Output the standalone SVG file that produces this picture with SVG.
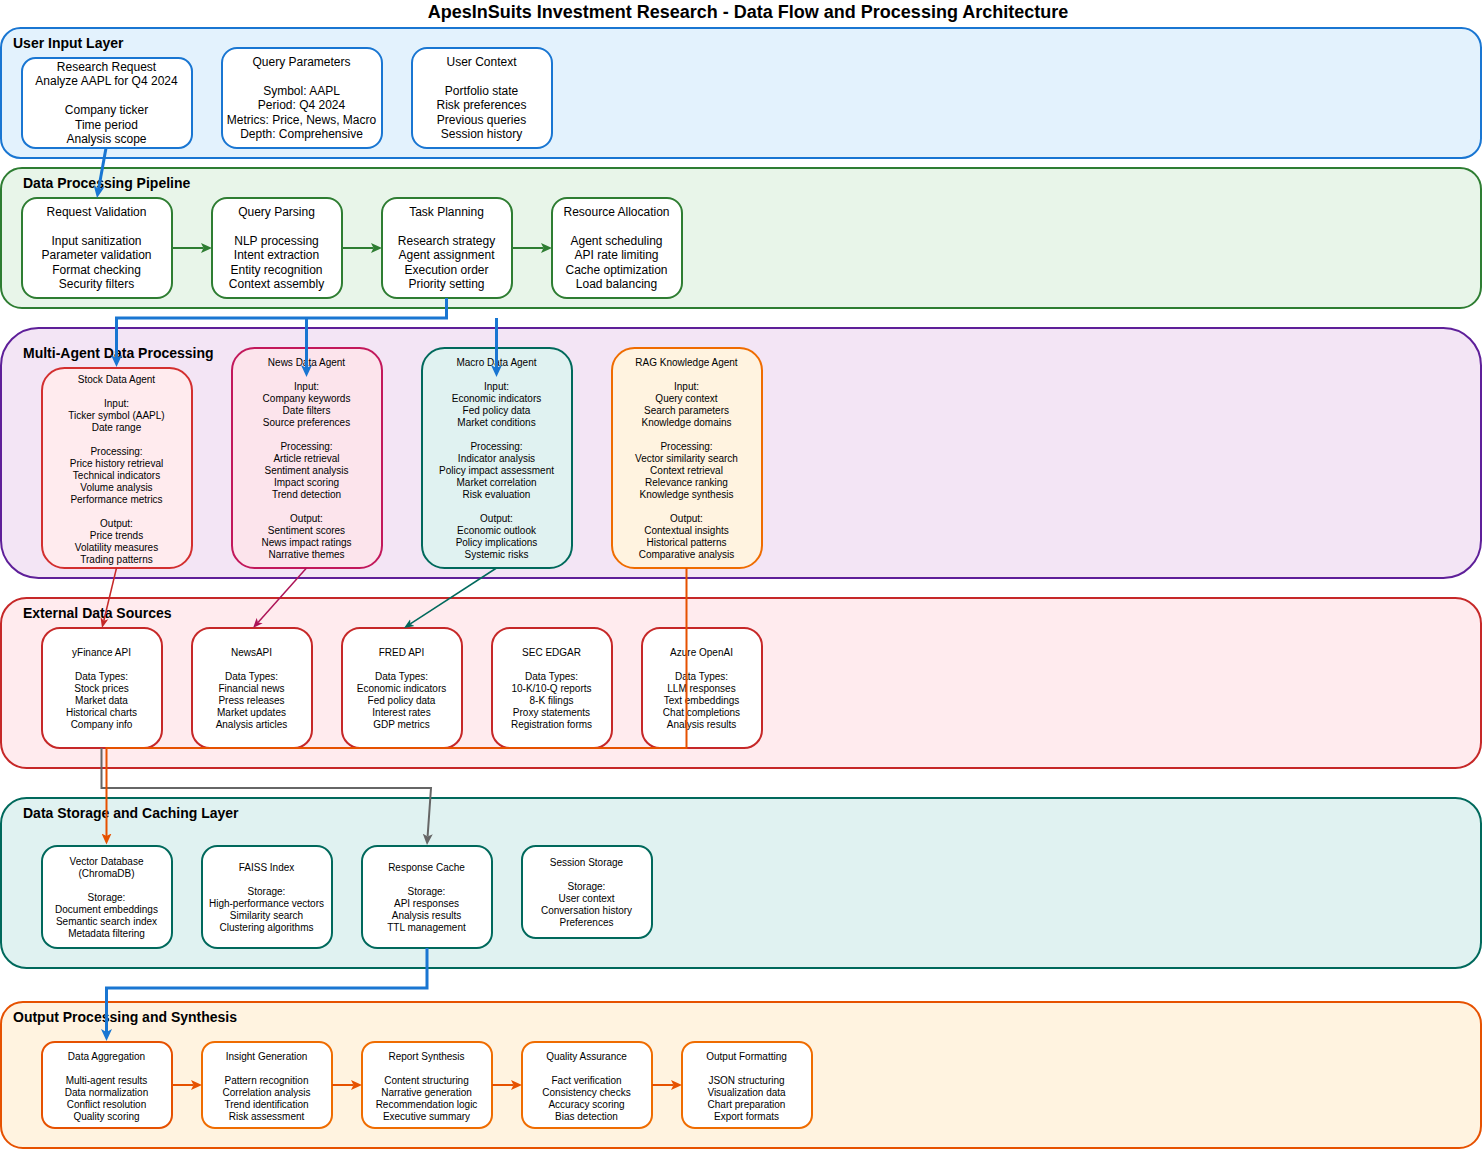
<svg xmlns="http://www.w3.org/2000/svg" width="1482" height="1149" viewBox="0 0 1482 1149">
<style>
text{font-family:"Liberation Sans",Arial,sans-serif;fill:#000}
.title{font-size:18px;font-weight:bold}
.lt{font-size:14px;font-weight:bold}
.t12{font-size:12px;text-anchor:middle}
.t10{font-size:10px;text-anchor:middle}
.layer{stroke-width:2}
.node{stroke-width:2;fill:#fff}
.c{fill:none;stroke-linejoin:miter}
</style>
<defs>
<marker id="aBlue" markerUnits="userSpaceOnUse" markerWidth="12" markerHeight="12" viewBox="0 0 12 12" refX="3" refY="6" orient="auto"><path d="M0,0.5 L12,6 L0,11.5 L3,6 z" fill="#1976d2"/></marker>
<marker id="aGreen" markerUnits="userSpaceOnUse" markerWidth="11" markerHeight="10" viewBox="0 0 11 10" refX="2.5" refY="5" orient="auto"><path d="M0,0 L11,5 L0,10 L2.5,5 z" fill="#2e7d32"/></marker>
<marker id="aOrange" markerUnits="userSpaceOnUse" markerWidth="11" markerHeight="10" viewBox="0 0 11 10" refX="2.5" refY="5" orient="auto"><path d="M0,0 L11,5 L0,10 L2.5,5 z" fill="#e65100"/></marker>
<marker id="aGray" markerUnits="userSpaceOnUse" markerWidth="11" markerHeight="10" viewBox="0 0 11 10" refX="2.5" refY="5" orient="auto"><path d="M0,0 L11,5 L0,10 L2.5,5 z" fill="#666"/></marker>
<marker id="aRed" markerUnits="userSpaceOnUse" markerWidth="10" markerHeight="10" viewBox="0 0 10 10" refX="2.5" refY="5" orient="auto"><path d="M0,1 L10,5 L0,9 L2.5,5 z" fill="#c62828"/></marker>
<marker id="aPink" markerUnits="userSpaceOnUse" markerWidth="10" markerHeight="10" viewBox="0 0 10 10" refX="2.5" refY="5" orient="auto"><path d="M0,1 L10,5 L0,9 L2.5,5 z" fill="#ad1457"/></marker>
<marker id="aTeal" markerUnits="userSpaceOnUse" markerWidth="10" markerHeight="10" viewBox="0 0 10 10" refX="2.5" refY="5" orient="auto"><path d="M0,1 L10,5 L0,9 L2.5,5 z" fill="#00695c"/></marker>
</defs>

<rect width="1482" height="1149" fill="#fff"/>
<text class="title" x="748" y="17.5" text-anchor="middle">ApesInSuits Investment Research - Data Flow and Processing Architecture</text>

<g id="layers">
<g id="layer-user-input"><rect class="layer" x="1" y="28" width="1480" height="130" rx="19.5" fill="#e3f2fd" stroke="#1976d2"/><text class="lt" x="13" y="48">User Input Layer</text></g>
<g id="layer-pipeline"><rect class="layer" x="1" y="168" width="1480" height="140" rx="21" fill="#e8f5e9" stroke="#2e7d32"/><text class="lt" x="23" y="188">Data Processing Pipeline</text></g>
<g id="layer-agents"><rect class="layer" x="1" y="328" width="1480" height="250" rx="37.5" fill="#f3e5f5" stroke="#5e1f99"/><text class="lt" x="23" y="358">Multi-Agent Data Processing</text></g>
<g id="layer-external"><rect class="layer" x="1" y="598" width="1480" height="170" rx="25.5" fill="#ffebee" stroke="#c62828"/><text class="lt" x="23" y="618">External Data Sources</text></g>
<g id="layer-storage"><rect class="layer" x="1" y="798" width="1480" height="170" rx="25.5" fill="#e0f2f1" stroke="#00695c"/><text class="lt" x="23" y="818">Data Storage and Caching Layer</text></g>
<g id="layer-output"><rect class="layer" x="1" y="1002" width="1480" height="146" rx="21.9" fill="#fff3e0" stroke="#e65100"/><text class="lt" x="13" y="1022">Output Processing and Synthesis</text></g>
</g>

<g id="research-request"><rect class="node" x="22" y="58" width="170" height="90" rx="13.5" stroke="#1976d2"/>
<text class="t12"><tspan x="106.5" y="71">Research Request</tspan><tspan x="106.5" dy="14.4">Analyze AAPL for Q4 2024</tspan><tspan x="106.5" dy="28.8">Company ticker</tspan><tspan x="106.5" dy="14.4">Time period</tspan><tspan x="106.5" dy="14.4">Analysis scope</tspan></text></g>
<g id="query-parameters"><rect class="node" x="222" y="48" width="160" height="100" rx="15" stroke="#1976d2"/>
<text class="t12"><tspan x="301.5" y="66">Query Parameters</tspan><tspan x="301.5" dy="28.8">Symbol: AAPL</tspan><tspan x="301.5" dy="14.4">Period: Q4 2024</tspan><tspan x="301.5" dy="14.4">Metrics: Price, News, Macro</tspan><tspan x="301.5" dy="14.4">Depth: Comprehensive</tspan></text></g>
<g id="user-context"><rect class="node" x="412" y="48" width="140" height="100" rx="15" stroke="#1976d2"/>
<text class="t12"><tspan x="481.5" y="66">User Context</tspan><tspan x="481.5" dy="28.8">Portfolio state</tspan><tspan x="481.5" dy="14.4">Risk preferences</tspan><tspan x="481.5" dy="14.4">Previous queries</tspan><tspan x="481.5" dy="14.4">Session history</tspan></text></g>

<g id="request-validation"><rect class="node" x="22" y="198" width="150" height="100" rx="15" stroke="#2e7d32"/>
<text class="t12"><tspan x="96.5" y="216">Request Validation</tspan><tspan x="96.5" dy="28.8">Input sanitization</tspan><tspan x="96.5" dy="14.4">Parameter validation</tspan><tspan x="96.5" dy="14.4">Format checking</tspan><tspan x="96.5" dy="14.4">Security filters</tspan></text></g>
<g id="query-parsing"><rect class="node" x="212" y="198" width="130" height="100" rx="15" stroke="#2e7d32"/>
<text class="t12"><tspan x="276.5" y="216">Query Parsing</tspan><tspan x="276.5" dy="28.8">NLP processing</tspan><tspan x="276.5" dy="14.4">Intent extraction</tspan><tspan x="276.5" dy="14.4">Entity recognition</tspan><tspan x="276.5" dy="14.4">Context assembly</tspan></text></g>
<g id="task-planning"><rect class="node" x="382" y="198" width="130" height="100" rx="15" stroke="#2e7d32"/>
<text class="t12"><tspan x="446.5" y="216">Task Planning</tspan><tspan x="446.5" dy="28.8">Research strategy</tspan><tspan x="446.5" dy="14.4">Agent assignment</tspan><tspan x="446.5" dy="14.4">Execution order</tspan><tspan x="446.5" dy="14.4">Priority setting</tspan></text></g>
<g id="resource-allocation"><rect class="node" x="552" y="198" width="130" height="100" rx="15" stroke="#2e7d32"/>
<text class="t12"><tspan x="616.5" y="216">Resource Allocation</tspan><tspan x="616.5" dy="28.8">Agent scheduling</tspan><tspan x="616.5" dy="14.4">API rate limiting</tspan><tspan x="616.5" dy="14.4">Cache optimization</tspan><tspan x="616.5" dy="14.4">Load balancing</tspan></text></g>

<g id="stock-agent"><rect x="42" y="368" width="150" height="200" rx="22.5" fill="#ffebee" stroke="#d32f2f" stroke-width="2"/>
<text class="t10"><tspan x="116.5" y="382.5">Stock Data Agent</tspan><tspan x="116.5" dy="24">Input:</tspan><tspan x="116.5" dy="12">Ticker symbol (AAPL)</tspan><tspan x="116.5" dy="12">Date range</tspan><tspan x="116.5" dy="24">Processing:</tspan><tspan x="116.5" dy="12">Price history retrieval</tspan><tspan x="116.5" dy="12">Technical indicators</tspan><tspan x="116.5" dy="12">Volume analysis</tspan><tspan x="116.5" dy="12">Performance metrics</tspan><tspan x="116.5" dy="24">Output:</tspan><tspan x="116.5" dy="12">Price trends</tspan><tspan x="116.5" dy="12">Volatility measures</tspan><tspan x="116.5" dy="12">Trading patterns</tspan></text></g>
<g id="news-agent"><rect x="232" y="348" width="150" height="220" rx="22.5" fill="#fce4ec" stroke="#c2185b" stroke-width="2"/>
<text class="t10"><tspan x="306.5" y="366.2">News Data Agent</tspan><tspan x="306.5" dy="24">Input:</tspan><tspan x="306.5" dy="12">Company keywords</tspan><tspan x="306.5" dy="12">Date filters</tspan><tspan x="306.5" dy="12">Source preferences</tspan><tspan x="306.5" dy="24">Processing:</tspan><tspan x="306.5" dy="12">Article retrieval</tspan><tspan x="306.5" dy="12">Sentiment analysis</tspan><tspan x="306.5" dy="12">Impact scoring</tspan><tspan x="306.5" dy="12">Trend detection</tspan><tspan x="306.5" dy="24">Output:</tspan><tspan x="306.5" dy="12">Sentiment scores</tspan><tspan x="306.5" dy="12">News impact ratings</tspan><tspan x="306.5" dy="12">Narrative themes</tspan></text></g>
<g id="macro-agent"><rect x="422" y="348" width="150" height="220" rx="22.5" fill="#e0f2f1" stroke="#00695c" stroke-width="2"/>
<text class="t10"><tspan x="496.5" y="366.2">Macro Data Agent</tspan><tspan x="496.5" dy="24">Input:</tspan><tspan x="496.5" dy="12">Economic indicators</tspan><tspan x="496.5" dy="12">Fed policy data</tspan><tspan x="496.5" dy="12">Market conditions</tspan><tspan x="496.5" dy="24">Processing:</tspan><tspan x="496.5" dy="12">Indicator analysis</tspan><tspan x="496.5" dy="12">Policy impact assessment</tspan><tspan x="496.5" dy="12">Market correlation</tspan><tspan x="496.5" dy="12">Risk evaluation</tspan><tspan x="496.5" dy="24">Output:</tspan><tspan x="496.5" dy="12">Economic outlook</tspan><tspan x="496.5" dy="12">Policy implications</tspan><tspan x="496.5" dy="12">Systemic risks</tspan></text></g>
<g id="rag-agent"><rect x="612" y="348" width="150" height="220" rx="22.5" fill="#fff3e0" stroke="#ef6c00" stroke-width="2"/>
<text class="t10"><tspan x="686.5" y="366.2">RAG Knowledge Agent</tspan><tspan x="686.5" dy="24">Input:</tspan><tspan x="686.5" dy="12">Query context</tspan><tspan x="686.5" dy="12">Search parameters</tspan><tspan x="686.5" dy="12">Knowledge domains</tspan><tspan x="686.5" dy="24">Processing:</tspan><tspan x="686.5" dy="12">Vector similarity search</tspan><tspan x="686.5" dy="12">Context retrieval</tspan><tspan x="686.5" dy="12">Relevance ranking</tspan><tspan x="686.5" dy="12">Knowledge synthesis</tspan><tspan x="686.5" dy="24">Output:</tspan><tspan x="686.5" dy="12">Contextual insights</tspan><tspan x="686.5" dy="12">Historical patterns</tspan><tspan x="686.5" dy="12">Comparative analysis</tspan></text></g>

<g id="yfinance-api"><rect class="node" x="42" y="628" width="120" height="120" rx="18" stroke="#c62828"/>
<text class="t10"><tspan x="101.5" y="656.2">yFinance API</tspan><tspan x="101.5" dy="24">Data Types:</tspan><tspan x="101.5" dy="12">Stock prices</tspan><tspan x="101.5" dy="12">Market data</tspan><tspan x="101.5" dy="12">Historical charts</tspan><tspan x="101.5" dy="12">Company info</tspan></text></g>
<g id="newsapi"><rect class="node" x="192" y="628" width="120" height="120" rx="18" stroke="#c62828"/>
<text class="t10"><tspan x="251.5" y="656.2">NewsAPI</tspan><tspan x="251.5" dy="24">Data Types:</tspan><tspan x="251.5" dy="12">Financial news</tspan><tspan x="251.5" dy="12">Press releases</tspan><tspan x="251.5" dy="12">Market updates</tspan><tspan x="251.5" dy="12">Analysis articles</tspan></text></g>
<g id="fred-api"><rect class="node" x="342" y="628" width="120" height="120" rx="18" stroke="#c62828"/>
<text class="t10"><tspan x="401.5" y="656.2">FRED API</tspan><tspan x="401.5" dy="24">Data Types:</tspan><tspan x="401.5" dy="12">Economic indicators</tspan><tspan x="401.5" dy="12">Fed policy data</tspan><tspan x="401.5" dy="12">Interest rates</tspan><tspan x="401.5" dy="12">GDP metrics</tspan></text></g>
<g id="sec-edgar"><rect class="node" x="492" y="628" width="120" height="120" rx="18" stroke="#c62828"/>
<text class="t10"><tspan x="551.5" y="656.2">SEC EDGAR</tspan><tspan x="551.5" dy="24">Data Types:</tspan><tspan x="551.5" dy="12">10-K/10-Q reports</tspan><tspan x="551.5" dy="12">8-K filings</tspan><tspan x="551.5" dy="12">Proxy statements</tspan><tspan x="551.5" dy="12">Registration forms</tspan></text></g>
<g id="azure-openai"><rect class="node" x="642" y="628" width="120" height="120" rx="18" stroke="#c62828"/>
<text class="t10"><tspan x="701.5" y="656.2">Azure OpenAI</tspan><tspan x="701.5" dy="24">Data Types:</tspan><tspan x="701.5" dy="12">LLM responses</tspan><tspan x="701.5" dy="12">Text embeddings</tspan><tspan x="701.5" dy="12">Chat completions</tspan><tspan x="701.5" dy="12">Analysis results</tspan></text></g>

<g id="vector-database"><rect class="node" x="42" y="846" width="130" height="102" rx="15.3" stroke="#00695c"/>
<text class="t10"><tspan x="106.5" y="865.2">Vector Database</tspan><tspan x="106.5" dy="12">(ChromaDB)</tspan><tspan x="106.5" dy="24">Storage:</tspan><tspan x="106.5" dy="12">Document embeddings</tspan><tspan x="106.5" dy="12">Semantic search index</tspan><tspan x="106.5" dy="12">Metadata filtering</tspan></text></g>
<g id="faiss-index"><rect class="node" x="202" y="846" width="130" height="102" rx="15.3" stroke="#00695c"/>
<text class="t10"><tspan x="266.5" y="871.2">FAISS Index</tspan><tspan x="266.5" dy="24">Storage:</tspan><tspan x="266.5" dy="12">High-performance vectors</tspan><tspan x="266.5" dy="12">Similarity search</tspan><tspan x="266.5" dy="12">Clustering algorithms</tspan></text></g>
<g id="response-cache"><rect class="node" x="362" y="846" width="130" height="102" rx="15.3" stroke="#00695c"/>
<text class="t10"><tspan x="426.5" y="871.2">Response Cache</tspan><tspan x="426.5" dy="24">Storage:</tspan><tspan x="426.5" dy="12">API responses</tspan><tspan x="426.5" dy="12">Analysis results</tspan><tspan x="426.5" dy="12">TTL management</tspan></text></g>
<g id="session-storage"><rect class="node" x="522" y="846" width="130" height="92" rx="13.8" stroke="#00695c"/>
<text class="t10"><tspan x="586.5" y="866.2">Session Storage</tspan><tspan x="586.5" dy="24">Storage:</tspan><tspan x="586.5" dy="12">User context</tspan><tspan x="586.5" dy="12">Conversation history</tspan><tspan x="586.5" dy="12">Preferences</tspan></text></g>

<g id="data-aggregation"><rect class="node" x="42" y="1042" width="130" height="86" rx="12.9" stroke="#e65100"/>
<text class="t10"><tspan x="106.5" y="1059.5">Data Aggregation</tspan><tspan x="106.5" dy="24">Multi-agent results</tspan><tspan x="106.5" dy="12">Data normalization</tspan><tspan x="106.5" dy="12">Conflict resolution</tspan><tspan x="106.5" dy="12">Quality scoring</tspan></text></g>
<g id="insight-generation"><rect class="node" x="202" y="1042" width="130" height="86" rx="12.9" stroke="#ef6c00"/>
<text class="t10"><tspan x="266.5" y="1059.5">Insight Generation</tspan><tspan x="266.5" dy="24">Pattern recognition</tspan><tspan x="266.5" dy="12">Correlation analysis</tspan><tspan x="266.5" dy="12">Trend identification</tspan><tspan x="266.5" dy="12">Risk assessment</tspan></text></g>
<g id="report-synthesis"><rect class="node" x="362" y="1042" width="130" height="86" rx="12.9" stroke="#ef6c00"/>
<text class="t10"><tspan x="426.5" y="1059.5">Report Synthesis</tspan><tspan x="426.5" dy="24">Content structuring</tspan><tspan x="426.5" dy="12">Narrative generation</tspan><tspan x="426.5" dy="12">Recommendation logic</tspan><tspan x="426.5" dy="12">Executive summary</tspan></text></g>
<g id="quality-assurance"><rect class="node" x="522" y="1042" width="130" height="86" rx="12.9" stroke="#ef6c00"/>
<text class="t10"><tspan x="586.5" y="1059.5">Quality Assurance</tspan><tspan x="586.5" dy="24">Fact verification</tspan><tspan x="586.5" dy="12">Consistency checks</tspan><tspan x="586.5" dy="12">Accuracy scoring</tspan><tspan x="586.5" dy="12">Bias detection</tspan></text></g>
<g id="output-formatting"><rect class="node" x="682" y="1042" width="130" height="86" rx="12.9" stroke="#ef6c00"/>
<text class="t10"><tspan x="746.5" y="1059.5">Output Formatting</tspan><tspan x="746.5" dy="24">JSON structuring</tspan><tspan x="746.5" dy="12">Visualization data</tspan><tspan x="746.5" dy="12">Chart preparation</tspan><tspan x="746.5" dy="12">Export formats</tspan></text></g>

<g id="connectors" class="c">
<path d="M106,148 L98.6,189.1" stroke="#1976d2" stroke-width="3" marker-end="url(#aBlue)"/>
<path d="M446.5,298 V318 H116.5 V358" stroke="#1976d2" stroke-width="3" marker-end="url(#aBlue)"/>
<path d="M306.5,318 V368" stroke="#1976d2" stroke-width="3" marker-end="url(#aBlue)"/>
<path d="M496.5,318 V368" stroke="#1976d2" stroke-width="3" marker-end="url(#aBlue)"/>
<path d="M172,248 H203.5" stroke="#2e7d32" stroke-width="2" marker-end="url(#aGreen)"/>
<path d="M342,248 H373.5" stroke="#2e7d32" stroke-width="2" marker-end="url(#aGreen)"/>
<path d="M512,248 H543.5" stroke="#2e7d32" stroke-width="2" marker-end="url(#aGreen)"/>
<path d="M116.5,568 L103.8,620.7" stroke="#c62828" stroke-width="1.5" marker-end="url(#aRed)"/>
<path d="M306.5,568 L258,622.4" stroke="#ad1457" stroke-width="1.5" marker-end="url(#aPink)"/>
<path d="M496.5,568 L410.3,623.9" stroke="#00695c" stroke-width="1.5" marker-end="url(#aTeal)"/>
<path d="M101.5,748 V788 H431 L427.6,836.5" stroke="#666" stroke-width="2" marker-end="url(#aGray)"/>
<path d="M686.5,568 V748 H106.5 V836" stroke="#e65100" stroke-width="2" marker-end="url(#aOrange)"/>
<path d="M427,948 V988 H106.5 V1032" stroke="#1976d2" stroke-width="3" marker-end="url(#aBlue)"/>
<path d="M172,1085 H193.5" stroke="#e65100" stroke-width="2" marker-end="url(#aOrange)"/>
<path d="M332,1085 H353.5" stroke="#e65100" stroke-width="2" marker-end="url(#aOrange)"/>
<path d="M492,1085 H513.5" stroke="#e65100" stroke-width="2" marker-end="url(#aOrange)"/>
<path d="M652,1085 H673.5" stroke="#e65100" stroke-width="2" marker-end="url(#aOrange)"/>
</g>
</svg>
